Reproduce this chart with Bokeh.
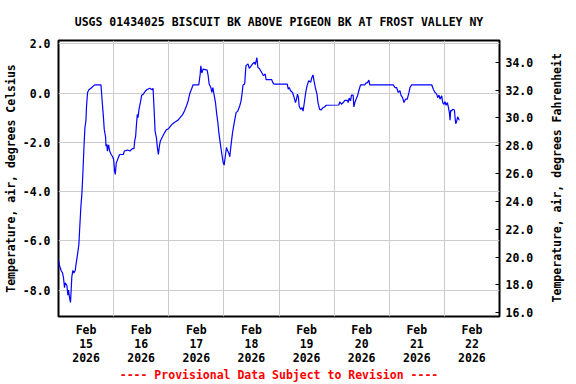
import math
import numpy as np
from bokeh.plotting import figure
from bokeh.layouts import row
from bokeh.models import Range1d, LinearAxis, FixedTicker, PrintfTickFormatter
from bokeh.core.properties import value
from bokeh.embed import file_html
from bokeh.resources import INLINE

# time in days since 2026-02-15 00:00
day = [
    0.0, 0.018, 0.048, 0.073, 0.091, 0.109, 0.121, 0.152, 0.170, 0.182, 0.2, 0.218,
    0.242, 0.261, 0.279, 0.303, 0.321, 0.345, 0.37, 0.382, 0.406, 0.424, 0.442, 0.461,
    0.479, 0.497, 0.509, 0.527, 0.552, 0.588, 0.655, 0.77, 0.782, 0.794, 0.812, 0.83,
    0.855, 0.861, 0.879, 0.885, 0.909, 0.927, 0.958, 0.982, 1.0, 1.018, 1.03, 1.048,
    1.067, 1.085, 1.109, 1.176, 1.194, 1.255, 1.297, 1.333, 1.37, 1.382, 1.4, 1.412,
    1.43, 1.442, 1.461, 1.485, 1.509, 1.539, 1.57, 1.6, 1.655, 1.697, 1.715, 1.733,
    1.752, 1.776, 1.794, 1.812, 1.83, 1.848, 1.879, 1.909, 1.952, 2.0, 2.061, 2.109,
    2.164, 2.206, 2.248, 2.285, 2.321, 2.352, 2.382, 2.412, 2.442, 2.545, 2.57, 2.582,
    2.6, 2.624, 2.697, 2.715, 2.733, 2.764, 2.782, 2.8, 2.818, 2.848, 2.867, 2.891,
    2.909, 2.933, 2.964, 2.988, 3.006,
    3.024, 3.048, 3.06, 3.09, 3.108, 3.12, 3.138, 3.156, 3.174, 3.198, 3.222, 3.251,
    3.287, 3.311, 3.329, 3.347, 3.377, 3.401, 3.437, 3.461, 3.491, 3.521, 3.551, 3.569,
    3.599, 3.617, 3.647, 3.683, 3.719, 3.749, 3.766, 3.868, 3.886, 3.91, 4.15, 4.168,
    4.186, 4.21, 4.246, 4.275, 4.299, 4.317, 4.335, 4.353, 4.365, 4.395, 4.419, 4.437,
    4.455, 4.485, 4.509, 4.539, 4.575, 4.593, 4.617, 4.635, 4.659, 4.689, 4.707, 4.737,
    4.766, 4.796, 4.826, 4.856,
    5.085, 5.103, 5.133, 5.164, 5.194, 5.242, 5.255, 5.273, 5.297, 5.315, 5.345, 5.358,
    5.376, 5.406, 5.424, 5.448, 5.479, 5.558, 5.576, 5.606, 5.63, 5.648, 6.073, 6.103,
    6.133, 6.164, 6.194, 6.212, 6.242, 6.267, 6.297, 6.327, 6.358, 6.376, 6.406, 6.77,
    6.8, 6.83, 6.861, 6.879, 6.903, 6.921, 6.952, 6.97, 6.994, 7.012, 7.03, 7.055,
    7.073, 7.091, 7.103, 7.115, 7.133, 7.152, 7.182, 7.194, 7.206, 7.224, 7.242, 7.261,
    7.273,
]

temp_c = [
    -6.77, -7.0, -7.2, -7.3, -7.5, -7.9, -7.7, -7.8, -8.2, -8.0, -8.3, -8.5,
    -7.45, -7.2, -7.3, -7.2, -6.9, -6.56, -6.13, -5.6, -4.6, -4.1, -3.27, -2.24,
    -1.4, -1.13, -0.52, 0.03, 0.14, 0.2, 0.34, 0.34, 0.0, -0.38, -0.88, -1.47,
    -1.8, -2.15, -2.08, -2.35, -2.1, -2.35, -2.5, -2.58, -2.69, -3.17, -3.3, -2.83,
    -2.73, -2.62, -2.49, -2.49, -2.35, -2.31, -2.35, -2.26, -2.24, -1.94, -1.74, -1.33,
    -0.86, -0.99, -0.65, -0.38, -0.08, -0.04, 0.07, 0.14, 0.2, 0.14, 0.2, -0.58,
    -1.54, -1.8, -2.21, -2.49, -2.15, -1.94, -1.8, -1.67, -1.5, -1.43, -1.26, -1.18,
    -1.1, -0.99, -0.88, -0.72, -0.52, -0.31, -0.01, 0.16, 0.34, 0.34, 0.77, 1.11,
    0.82, 0.98, 0.94, 0.71, 0.37, 0.23, 0.03, 0.23, -0.01, -0.38, -0.79, -1.2,
    -1.6, -2.01, -2.49, -2.83, -2.92,
    -2.58, -2.2, -2.3, -2.44, -2.58, -2.3, -1.96, -1.62, -1.38, -1.07, -0.79, -0.73,
    -0.52, -0.32, -0.04, 0.33, 0.37, 1.12, 1.19, 1.01, 1.1, 1.19, 1.26, 1.16,
    1.44, 1.05, 0.99, 0.85, 0.71, 0.78, 0.55, 0.55, 0.44, 0.37, 0.37, 0.16,
    0.23, 0.1, 0.03, -0.18, -0.38, -0.25, -0.04, -0.18, -0.52, -0.66, -0.59, -0.73,
    -0.45, 0.03, 0.3, 0.51, 0.44, 0.62, 0.74, 0.51, 0.23, -0.04, -0.38, -0.66,
    -0.68, -0.59, -0.56, -0.49,
    -0.48, -0.35, -0.45, -0.38, -0.29, -0.29, -0.38, -0.2, -0.31, -0.08, -0.08, -0.56,
    -0.38, -0.2, -0.11, 0.1, 0.34, 0.34, 0.41, 0.43, 0.53, 0.34, 0.34, 0.23,
    0.23, 0.03, 0.1, -0.08, -0.18, -0.38, -0.24, -0.24, 0.03, 0.23, 0.34, 0.34,
    0.16, 0.03, -0.04, -0.18, -0.08, -0.24, -0.11, -0.38, -0.45, -0.34, -0.49, -0.38,
    -0.58, -0.79, -1.1, -0.69, -0.72, -0.65, -0.68, -0.99, -1.24, -1.13, -0.96, -1.06,
    -1.1,
]

day_label_pos = [0.5, 1.5, 2.5, 3.5, 4.5, 5.5, 6.5, 7.5]
day_labels = ["Feb\n15\n2026", "Feb\n16\n2026", "Feb\n17\n2026", "Feb\n18\n2026",
              "Feb\n19\n2026", "Feb\n20\n2026", "Feb\n21\n2026", "Feb\n22\n2026"]
midnights = [1, 2, 3, 4, 5, 6, 7]
c_ticks = [-8.0, -6.0, -4.0, -2.0, 0.0, 2.0]
f_ticks = [16.0, 18.0, 20.0, 22.0, 24.0, 26.0, 28.0, 30.0, 32.0, 34.0]
f_title = "Temperature, air, degrees Fahrenheit"

FONT = "DejaVu Sans Mono"
FS = "11.5px"

p = figure(width=540, height=384, x_range=Range1d(0, 8), y_range=Range1d(-9.07, 2.14),
           output_backend="svg", toolbar_location=None,
           min_border_left=58, min_border_right=41, min_border_top=40, min_border_bottom=68,
           background_fill_color="white", border_fill_color="white")

p.title.text = "USGS 01434025 BISCUIT BK ABOVE PIGEON BK AT FROST VALLEY NY"
p.title.align = "center"
p.title.text_font = FONT
p.title.text_font_style = "bold"
p.title.text_font_size = FS
p.title.text_color = "black"
p.title.standoff = 24

p.outline_line_color = "black"
p.outline_line_width = 2

p.extra_y_ranges = {"f": Range1d(15.73, 35.56)}

# left axis
ya = p.yaxis[0]
ya.ticker = FixedTicker(ticks=c_ticks)
ya.formatter = PrintfTickFormatter(format="%.1f")
ya.axis_label = "Temperature, air, degrees Celsius"
ya.major_tick_in = 0
ya.major_tick_out = 0
ya.minor_tick_line_color = None
ya.axis_line_color = None
ya.major_label_standoff = 8
ya.axis_label_standoff = 2
ya.axis_label_text_color = "black"

# right axis
ra = LinearAxis(y_range_name="f", ticker=FixedTicker(ticks=f_ticks),
                formatter=PrintfTickFormatter(format="%.1f"))
ra.major_tick_in = 4
ra.major_tick_out = 0
ra.major_tick_line_color = "black"
ra.minor_tick_line_color = None
ra.axis_line_color = None
ra.major_label_standoff = 6
p.add_layout(ra, "right")

# bottom axis
xa = p.xaxis[0]
xa.ticker = FixedTicker(ticks=day_label_pos)
xa.major_label_overrides = {k: v for k, v in zip(day_label_pos, day_labels)}
xa.major_tick_line_color = None
xa.minor_tick_line_color = None
xa.axis_line_color = None
xa.major_label_standoff = 0
xa.major_label_text_line_height = 1.0
xa.axis_label = "---- Provisional Data Subject to Revision ----"
xa.axis_label_standoff = 0

for ax in (ya, ra, xa):
    ax.major_label_text_font = FONT
    ax.major_label_text_font_style = "bold"
    ax.major_label_text_font_size = FS
    ax.major_label_text_color = "black"
    ax.axis_label_text_font = FONT
    ax.axis_label_text_font_style = "bold"
    ax.axis_label_text_font_size = FS
xa.axis_label_text_color = "#ff0000"

p.xgrid.ticker = FixedTicker(ticks=midnights)
p.ygrid.ticker = FixedTicker(ticks=c_ticks)
p.xgrid.grid_line_color = "#cccccc"
p.ygrid.grid_line_color = "#cccccc"
p.xgrid.grid_line_width = 1
p.ygrid.grid_line_width = 1

p.line(day, temp_c, line_color="#0000ff", line_width=1.2)

# narrow strip holding the right-hand axis title, reading bottom-to-top
p2 = figure(width=36, height=384, x_range=Range1d(0, 36), y_range=Range1d(0, 384),
            output_backend="svg", toolbar_location=None,
            x_axis_location=None, y_axis_location=None,
            min_border=0, min_border_left=0, min_border_right=0,
            min_border_top=0, min_border_bottom=0,
            background_fill_color="white", border_fill_color="white")
p2.outline_line_color = None
p2.grid.visible = False
p2.text(x=[16], y=[193], text=[f_title], angle=math.pi / 2,
        text_align="center", text_baseline="middle",
        text_font=value(FONT), text_font_style="bold", text_font_size=FS,
        text_color="black")

layout = row(p, p2, spacing=0)

open("out.html", "w").write(file_html(layout, INLINE))
